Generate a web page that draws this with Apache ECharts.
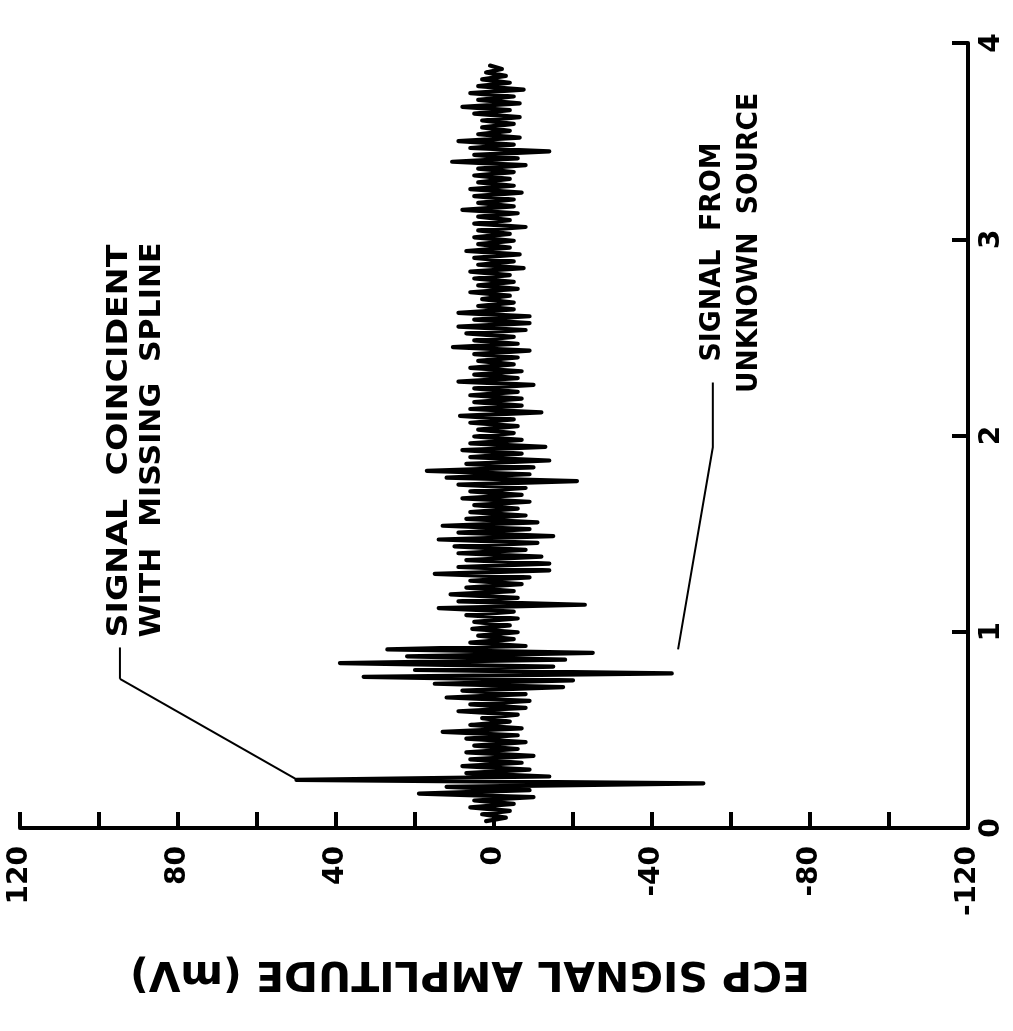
<!DOCTYPE html>
<html>
<head>
<meta charset="utf-8">
<script src="https://cdn.jsdelivr.net/npm/echarts@6/dist/echarts.min.js"></script>
<style>
  html, body { margin: 0; padding: 0; background: #fff; }
  #chart { width: 1013px; height: 1031px; }
</style>
</head>
<body>
<div id="chart"></div>
<script>
// ECP signal trace, page is turned 90deg: amplitude runs left->right (120 .. -120), time runs bottom->top
const sampleStart = 0.035;   // time of first sample
const sampleStep = 0.0175;   // time between samples
const amplitude = [
  2, -3, 3, -4, 6, -5, 5, -10, 19, -9,
  12, -53, 50, -14, 7, -9, 8, -7, 6, -10,
  7, -6, 5, -8, 7, -6, 13, -7, 6, -4,
  3, -6, 9, -8, 6, -9, 12, -8, 8, -17.5,
  15, -20, 33, -45, 20, -15, 39, -18, 22, -25,
  27, -8, 6, -5, 4, -6, 5.5, -4, 5, -6,
  7, -5, 14, -23, 9, -6, 11, -5, 7, -7,
  6, -9, 15, -14, 9, -14, 7, -12, 9, -8,
  10, -11, 14, -15, 9, -9, 13, -11, 7, -8,
  6, -6, 5, -9, 8, -7, 6, -8, 9, -21,
  12, -9, 17, -10, 7, -14, 6, -7, 8, -13,
  6, -7, 5, -5, 4, -6, 6, -5, 8.6, -12,
  6, -7, 5, -7, 6, -6, 5, -10, 9, -6,
  5, -7, 6, -5, 4, -6, 5, -9, 10.4, -6,
  5, -5, 7, -8, 9, -9, 5, -9, 9, -5,
  4, -5, 3, -4, 6, -6, 4, -5, 5, -4,
  6, -7.5, 4, -5, 5, -6.5, 7, -4, 4, -5,
  5, -4, 4, -8, 5, -4, 4, -6, 8, -5,
  4, -5, 5, -7, 6, -5, 4, -4, 5, -5,
  4, -8, 10.6, -6, 5, -14, 6, -5, 9, -6.5,
  4, -4, 3, -5, 3, -6.5, 5, -4, 8, -6.5,
  4, -5, 6, -7.5, 4, -4, 3, -3, 2, -2,
  1
];
const ampTicks = [120, 80, 40, 0, -40, -80, -120];
const timeTicks = [0, 1, 2, 3, 4];

// annotation leaders, in data units [amplitude, time]
const leaderSpline = [[94.7, 0.92], [94.7, 0.76]];
const arrowSpline = [[94.7, 0.76], [50, 0.248]];
const leaderUnknown = [[-55.4, 2.27], [-55.4, 1.94], [-46.6, 0.91]];

const trace = amplitude.map((a, i) => [a, sampleStart + i * sampleStep]);

const FONT = '"DejaVu Sans", "Liberation Sans", Arial, sans-serif';
const measure = document.createElement('canvas').getContext('2d');
// stretch a bold text along its reading direction so it covers len pixels
function label(text, cx, cy, size, len, rotation) {
  measure.font = 'bold ' + size + 'px ' + FONT;
  const w = measure.measureText(text).width;
  return {
    type: 'text',
    x: cx,
    y: cy,
    rotation: rotation,
    scaleX: len / w,
    silent: true,
    style: {
      text: text,
      fontFamily: FONT,
      fontWeight: 'bold',
      fontSize: size,
      fill: '#000',
      align: 'center',
      verticalAlign: 'middle'
    }
  };
}

const chart = echarts.init(document.getElementById('chart'));
const black = '#000';

chart.setOption({
  animation: false,
  backgroundColor: '#fff',
  grid: { left: 20, right: 45, top: 43, bottom: 203 },
  xAxis: {
    type: 'value',
    min: -120,
    max: 120,
    interval: 40,
    inverse: true,
    axisLine: { onZero: false, lineStyle: { color: black, width: 4 } },
    axisTick: { inside: true, length: 16, lineStyle: { color: black, width: 4 } },
    minorTick: { show: true, splitNumber: 2, length: 16, lineStyle: { color: black, width: 4 } },
    splitLine: { show: false },
    minorSplitLine: { show: false },
    axisLabel: {
      rotate: 90,
      margin: 18,
      showMinLabel: true,
      showMaxLabel: true,
      color: black,
      fontFamily: FONT,
      fontWeight: 'bold',
      fontSize: 28,
      formatter: v => (ampTicks.indexOf(v) >= 0 ? String(v) : '')
    }
  },
  yAxis: {
    type: 'value',
    min: 0,
    max: 4,
    interval: 1,
    position: 'right',
    axisLine: { show: true, onZero: false, lineStyle: { color: black, width: 4 } },
    axisTick: { show: true, inside: true, length: 16, lineStyle: { color: black, width: 4 } },
    splitLine: { show: false },
    axisLabel: {
      rotate: 90,
      margin: 10,
      showMinLabel: true,
      showMaxLabel: true,
      color: black,
      fontFamily: FONT,
      fontWeight: 'bold',
      fontSize: 28,
      formatter: v => (timeTicks.indexOf(v) >= 0 ? String(v) : '')
    }
  },
  series: [
    {
      name: 'ECP signal',
      type: 'line',
      data: trace,
      showSymbol: false,
      symbol: 'none',
      lineStyle: { color: black, width: 4.2, cap: 'round', join: 'round' },
      silent: true
    },
    {
      name: 'leader spline',
      type: 'line',
      data: leaderSpline,
      symbol: 'none',
      lineStyle: { color: black, width: 2 },
      silent: true,
      markLine: {
        silent: true,
        symbol: ['none', 'arrow'],
        symbolSize: [0, 14],
        label: { show: false },
        lineStyle: { color: black, width: 2, type: 'solid' },
        data: [[{ coord: arrowSpline[0] }, { coord: arrowSpline[1] }]]
      }
    },
    {
      name: 'leader unknown',
      type: 'line',
      data: leaderUnknown,
      symbol: 'none',
      lineStyle: { color: black, width: 2 },
      silent: true
    }
  ],
  graphic: [
    label('SIGNAL  COINCIDENT', 120, 441, 28, 393, Math.PI / 2),
    label('WITH  MISSING  SPLINE', 153, 440, 28, 395, Math.PI / 2),
    label('SIGNAL  FROM', 713, 252, 28, 219, Math.PI / 2),
    label('UNKNOWN  SOURCE', 750, 243, 28, 300, Math.PI / 2),
    label('ECP SIGNAL AMPLITUDE (mV)', 470, 972, 40, 680, Math.PI)
  ]
});
</script>
</body>
</html>
